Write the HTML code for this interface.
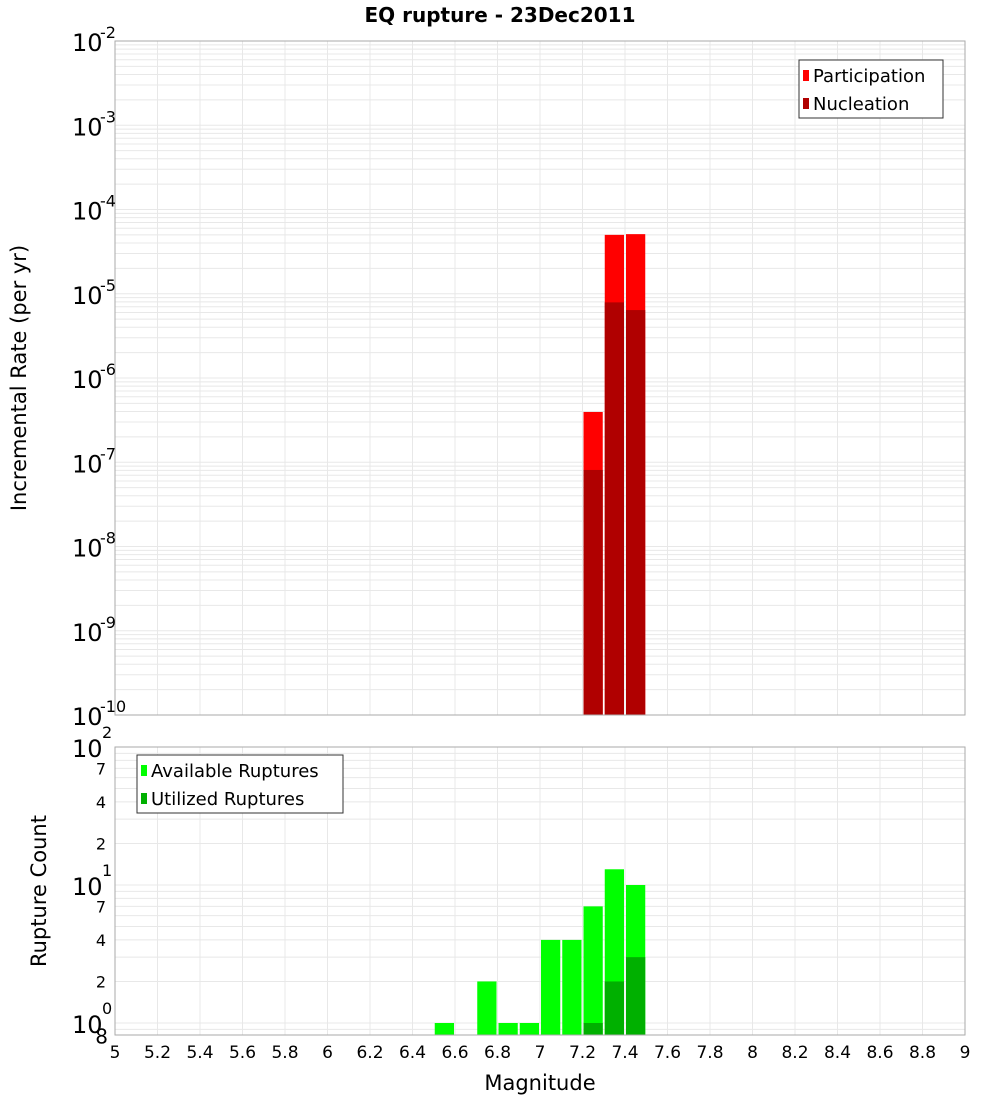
<!DOCTYPE html>
<html><head><meta charset="utf-8"><style>
body{margin:0;background:#fff;font-family:"DejaVu Sans","Liberation Sans",sans-serif}
svg text{font-family:"DejaVu Sans","Liberation Sans",sans-serif}
</style></head><body>
<svg id="c" width="1000" height="1100" xmlns="http://www.w3.org/2000/svg">
<text x="500" y="22" text-anchor="middle" font-size="20" font-weight="bold">EQ rupture - 23Dec2011</text>
<text transform="translate(26,378) rotate(-90)" text-anchor="middle" font-size="21">Incremental Rate (per yr)</text>
<text transform="translate(46,891) rotate(-90)" text-anchor="middle" font-size="21">Rupture Count</text>
<text x="540" y="1090" text-anchor="middle" font-size="21">Magnitude</text>
<g id="g"></g>
</svg>
<script>
const mags=[7.25,7.35,7.45];
const participation=[3.95e-7,5.0e-5,5.1e-5];
const nucleation=[8.1e-8,7.9e-6,6.4e-6];
const countMags=[6.55,6.75,6.85,6.95,7.05,7.15,7.25,7.35,7.45];
const available=[1,2,1,1,4,4,7,13,10];
const utilMags=[7.25,7.35,7.45];
const utilized=[1,2,3];
const xTicks=[5,5.2,5.4,5.6,5.8,6,6.2,6.4,6.6,6.8,7,7.2,7.4,7.6,7.8,8,8.2,8.4,8.6,8.8,9];
const topDecades=[-2,-3,-4,-5,-6,-7,-8,-9,-10];
const botMinor=[7,4,2];

const NS='http://www.w3.org/2000/svg',g=document.getElementById('g');
function el(t,a,txt){const e=document.createElementNS(NS,t);for(const k in a)e.setAttribute(k,a[k]);if(txt!=null)e.textContent=txt;g.appendChild(e);return e;}
const L=115,R=965;
const X=m=>L+(m-5)/4*(R-L);
const T0=41,T1=715;
const yT=v=>T0+(-2-Math.log10(v))/8*(T1-T0);
const B0=747,B1=1035;
const yB=v=>B0+(2-Math.log10(v))*138;

// top grid
for(let d=-10;d<-2;d++)for(let k=1;k<10;k++){const y=yT(k*Math.pow(10,d));let e=el('line',{x1:L,x2:R,y1:y,y2:y,stroke:'#e8e8e8','stroke-width':1});}
// bottom grid
for(let d=-1;d<2;d++)for(let k=1;k<10;k++){const v=k*Math.pow(10,d);const y=yB(v);if(y>B1||y<B0)continue;let e=el('line',{x1:L,x2:R,y1:y,y2:y,stroke:'#e8e8e8','stroke-width':1});}
xTicks.forEach(t=>{const x=X(t);[[T0,T1],[B0,B1]].forEach(([a,b])=>{let e=el('line',{x1:x,x2:x,y1:a,y2:b,stroke:'#e8e8e8','stroke-width':1});});
 let t2=el('text',{x:x,y:1058,'text-anchor':'middle','font-size':17},String(t));});

// top bars
const bw=0.1;
function bar(m,v,yf,base,col,name){const x1=X(m-bw/2)+1,x2=X(m+bw/2)-1;const y=yf(v);let e=el('rect',{x:x1,y:y,width:x2-x1,height:base-y,fill:col});}
mags.forEach((m,i)=>bar(m,participation[i],yT,T1,'#ff0000','participation-bar'));
mags.forEach((m,i)=>bar(m,nucleation[i],yT,T1,'#b00000','nucleation-bar'));
countMags.forEach((m,i)=>bar(m,available[i],yB,B1,'#00ff00','available-bar'));
utilMags.forEach((m,i)=>bar(m,utilized[i],yB,B1,'#00b000','utilized-bar'));

// frames
let f1=el('rect',{x:L,y:T0,width:R-L,height:T1-T0,fill:'none',stroke:'#aaa'});
let f2=el('rect',{x:L,y:B0,width:R-L,height:B1-B0,fill:'none',stroke:'#aaa'});

// top y labels
topDecades.forEach(d=>{const y=yT(Math.pow(10,d));let t=el('text',{x:72,y:y+10,'font-size':24},'10');
 let s=el('text',{x:100,y:y-3,'font-size':16},String(d));});
// bottom y labels
[2,1,0].forEach(d=>{const y=yB(Math.pow(10,d));let t=el('text',{x:72,y:y+10,'font-size':24},'10');
 let s=el('text',{x:102,y:y-9,'font-size':16},String(d));});
[1,0].forEach(d=>botMinor.forEach(k=>{const y=yB(k*Math.pow(10,d));let t=el('text',{x:106,y:y+6,'font-size':16,'text-anchor':'end'},String(k));}));
let e8=el('text',{x:108,y:yB(0.8)+7,'font-size':20,'text-anchor':'end'},'8');

// legends
function legend(x,y,w,items,name){let r=el('rect',{x:x,y:y,width:w,height:58,fill:'#fff',stroke:'#333'});
 items.forEach(([lab,col],i)=>{let s=el('rect',{x:x+4,y:y+10+i*28,width:6,height:11,fill:col});
 let t=el('text',{x:x+14,y:y+22+i*28,'font-size':18},lab);});}
legend(799,60,144,[['Participation','#ff0000'],['Nucleation','#b00000']],'top-legend');
legend(137,755,206,[['Available Ruptures','#00ff00'],['Utilized Ruptures','#00b000']],'bottom-legend');
</script>
</body></html>
